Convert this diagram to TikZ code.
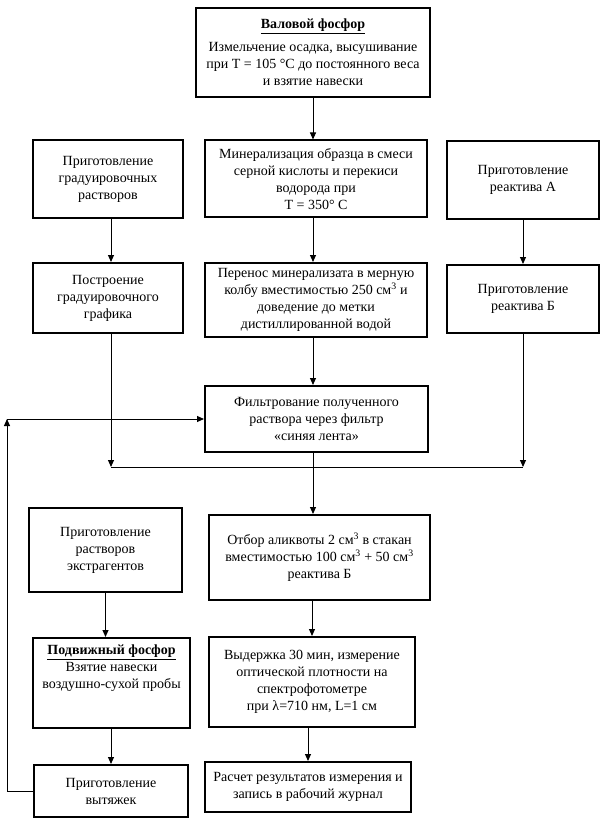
\documentclass[tikz,border=0pt]{standalone}
\usepackage{fontspec}
\setmainfont{Liberation Serif}
\usetikzlibrary{arrows.meta}
\begin{document}
\begin{tikzpicture}[x=1pt,y=-1pt,
  box/.style={draw, line width=2pt, align=center, inner sep=2pt, font=\fontsize{14}{17}\selectfont},
  txt/.style={align=center, inner sep=0pt, font=\fontsize{14}{17}\selectfont},
  conn/.style={line width=1pt},
  arr/.style={conn, -{Triangle[length=7pt,width=6pt]}}]
\useasboundingbox (0,0) rectangle (605,826);

\node[box, minimum width=234pt, minimum height=89pt] (top) at (313,52.5)
  {\underline{\textbf{Валовой фосфор}}\\[6pt] Измельчение осадка, высушивание\\ при Т = 105 °С до постоянного веса\\ и взятие навески};

\node[box, minimum width=150pt, minimum height=78pt] (l2) at (108,179) {Приготовление\\ градуировочных\\ растворов};
\node[box, minimum width=222pt, minimum height=77pt] (m2) at (316,179) {Минерализация образца в смеси\\ серной кислоты и перекиси\\ водорода при\\ Т = 350° С};
\node[box, minimum width=152pt, minimum height=78pt] (r2) at (523,180) {Приготовление\\ реактива А};

\node[box, minimum width=150pt, minimum height=70pt] (l3) at (108,298) {Построение\\ градуировочного\\ графика};
\node[box, minimum width=222pt, minimum height=74pt] (m3) at (316,300) {Перенос минерализата в мерную\\ колбу вместимостью 250 см\textsuperscript{3} и\\ доведение до метки\\ дистиллированной водой};
\node[box, minimum width=152pt, minimum height=68pt] (r3) at (523,299) {Приготовление\\ реактива Б};

\node[box, minimum width=223pt, minimum height=66pt] (f) at (316.5,419) {Фильтрование полученного\\ раствора через фильтр\\ «синяя лента»};

\node[box, minimum width=153pt, minimum height=84pt] (l5) at (105.5,550) {Приготовление\\ растворов\\ экстрагентов};
\node[box, minimum width=221pt, minimum height=85pt] (m5) at (319.5,557.5) {Отбор аликвоты 2 см\textsuperscript{3} в стакан\\ вместимостью 100 см\textsuperscript{3} + 50 см\textsuperscript{3}\\ реактива Б};

\node[box, minimum width=157pt, minimum height=90pt] (l6) at (111.5,683) {};
\node[txt, anchor=north] (l6t) at ([yshift=-8pt]l6.north) {\underline{\textbf{Подвижный фосфор}}\\ Взятие навески\\ воздушно-сухой пробы};
\node[box, minimum width=206pt, minimum height=90pt] (m6) at (312,682) {Выдержка 30 мин, измерение\\ оптической плотности на\\ спектрофотометре\\ при λ=710 нм, L=1 см};

\node[box, minimum width=154pt, minimum height=52pt] (l7) at (111,791) {Приготовление\\ вытяжек};
\node[box, minimum width=206pt, minimum height=50pt] (m7) at (308,787) {Расчет результатов измерения и\\ запись в рабочий журнал};

% connectors
\draw[arr] (top.south) -- (top.south |- m2.north);
\draw[arr] ([xshift=3pt]l2.south) -- ([xshift=3pt]l2.south |- l3.north);
\draw[arr] (top.south |- m2.south) -- (top.south |- m3.north);
\draw[arr] (r2.south) -- (r2.south |- r3.north);
\draw[arr] (top.south |- m3.south) -- (top.south |- f.north);

\coordinate (hl) at (0,467);
\coordinate (l3s) at ([xshift=3pt]l3.south);
\coordinate (jl) at (l3s |- hl);
\coordinate (jr) at (r3.south |- hl);
\draw[arr] (l3s) -- (jl);
\draw[arr] (r3.south) -- (jr);
\draw[conn] (jl) -- (jr);
\draw[arr] (top.south |- f.south) -- (top.south |- m5.north);

\draw[arr] (l5.south) -- (l5.south |- l6.north);
\draw[arr] (l6.south -| l7.north) -- (l7.north);
\draw[arr] (m5.south -| m6.north) -- (m6.north);
\draw[arr] (m6.south -| m7.north) -- (m7.north);

\coordinate (fbx) at (7,0);
\coordinate (fb) at (fbx |- f.west);
\draw[arr] (l7.west) -| (fb);
\draw[arr] (fb) -- (f.west);
\end{tikzpicture}
\end{document}
